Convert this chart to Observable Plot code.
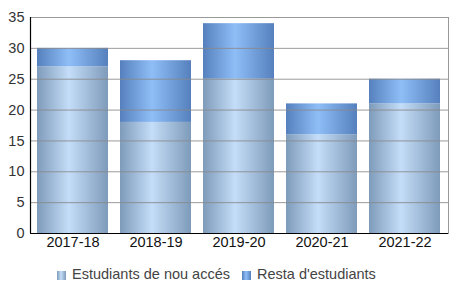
<!DOCTYPE html>
<html><head><meta charset="utf-8">
<script src="https://cdn.jsdelivr.net/npm/d3@7"></script>
<script src="https://cdn.jsdelivr.net/npm/@observablehq/plot@0.6"></script>
<style>
body{margin:0;background:#fff;font-family:"Liberation Sans",Arial,sans-serif}
#legend{position:relative;height:50px;font-size:14.5px;color:#444}
.item{position:absolute;top:14px;white-space:nowrap;line-height:17px}
.sw{display:inline-block;width:9px;height:9px;margin-right:6px;vertical-align:-1px}
</style>
</head><body>
<div id="chart"></div>
<div id="legend"></div>
<script>
const years = ["2017-18","2018-19","2019-20","2020-21","2021-22"];
const nouAcces = [27,18,25,16,21];
const resta = [3,10,9,5,4];
const seriesNames = ["Estudiants de nou accés","Resta d'estudiants"];
const yTicks = [0,5,10,15,20,25,30,35];

const data = [];
years.forEach((y,i)=>{
  data.push({year:y,series:seriesNames[0],value:nouAcces[i]});
  data.push({year:y,series:seriesNames[1],value:resta[i]});
});

const plot = Plot.plot({
  width:456, height:252,
  marginLeft:30, marginRight:8, marginTop:17, marginBottom:19,
  style:{fontFamily:'"Liberation Sans",Arial,sans-serif', fontSize:"14.5px", color:"#222", background:"#fff"},
  x:{domain:years, paddingInner:0.14, paddingOuter:0.07, label:null, tickSize:0, tickPadding:3},
  y:{domain:[0,35], ticks:yTicks, label:null, tickSize:0, tickPadding:6},
  color:{domain:seriesNames, range:["url(#gA)","url(#gB)"]},
  marks:[
    Plot.barY(data,{x:"year", y:"value", fill:"series"}),
    Plot.gridY(yTicks,{stroke:"#888", strokeOpacity:0.85}),
    Plot.frame({stroke:"#999"}),
    Plot.ruleY([0],{stroke:"#000", strokeWidth:1.2}),
    Plot.axisY({ticks:yTicks, tickSize:0, tickPadding:6, label:null, fill:"#333"}),
    Plot.axisX({tickSize:0, tickPadding:3, label:null, fill:"#111"})
  ]
});

const svg = d3.select(plot);
const defs = svg.insert("defs",":first-child");
function grad(id, edge, mid){
  const g = defs.append("linearGradient").attr("id",id).attr("x1","0").attr("x2","1").attr("y1","0").attr("y2","0");
  g.append("stop").attr("offset","0").attr("stop-color",edge);
  g.append("stop").attr("offset","0.45").attr("stop-color",mid);
  g.append("stop").attr("offset","1").attr("stop-color",edge);
}
grad("gA","#7e9bba","#c4ddf8");
grad("gB","#5580bd","#8fbef7");
// left axis line
svg.append("line").attr("x1",30.5).attr("x2",30.5).attr("y1",17).attr("y2",233).attr("stroke","#000").attr("stroke-width",1.2);

document.getElementById("chart").appendChild(plot);

const legend = d3.select("#legend");
const swatches = [
  {name:seriesNames[0], bg:"linear-gradient(to right,#7e9bba,#c4ddf8 45%,#7e9bba)", left:57},
  {name:seriesNames[1], bg:"linear-gradient(to right,#5580bd,#8fbef7 45%,#5580bd)", left:242}
];
swatches.forEach(s=>{
  const it = legend.append("div").attr("class","item").style("left",s.left+"px");
  it.append("span").attr("class","sw").style("background",s.bg);
  it.append("span").text(s.name);
});
</script>
</body></html>
